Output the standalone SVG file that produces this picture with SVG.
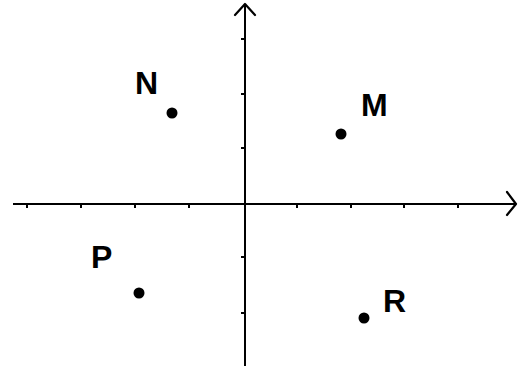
<svg xmlns="http://www.w3.org/2000/svg" width="526" height="367" viewBox="0 0 526 367">
<style>
.ax{stroke:#000;stroke-width:2;fill:none}
.tk{stroke:#000;stroke-width:2}
.ar{stroke:#000;stroke-width:2.2;fill:none;stroke-linecap:round;stroke-linejoin:round}
.lb{font-family:"Liberation Sans",Arial,sans-serif;font-weight:bold;font-size:32px;fill:#000}
.pt{fill:#000}
</style>
<rect width="526" height="367" fill="#fff"/>
<g id="connectors">
<line class="ax" x1="13" y1="204" x2="516" y2="204"/>
<polyline class="ar" points="507,192 516,204 507,215"/>
<line class="ax" x1="245" y1="4" x2="245" y2="366"/>
<polyline class="ar" points="235,15 245,4 255,15"/>
<g id="xticks">
<line class="tk" x1="27" y1="204" x2="27" y2="208"/>
<line class="tk" x1="81" y1="204" x2="81" y2="208"/>
<line class="tk" x1="135" y1="204" x2="135" y2="208"/>
<line class="tk" x1="189" y1="204" x2="189" y2="208"/>
<line class="tk" x1="297" y1="204" x2="297" y2="208"/>
<line class="tk" x1="351" y1="204" x2="351" y2="208"/>
<line class="tk" x1="404" y1="204" x2="404" y2="208"/>
<line class="tk" x1="458" y1="204" x2="458" y2="208"/>
</g>
<g id="yticks">
<line class="tk" x1="241" y1="39" x2="245" y2="39"/>
<line class="tk" x1="241" y1="94" x2="245" y2="94"/>
<line class="tk" x1="241" y1="148" x2="245" y2="148"/>
<line class="tk" x1="241" y1="257" x2="245" y2="257"/>
<line class="tk" x1="241" y1="313" x2="245" y2="313"/>
</g>
</g>
<g id="N"><circle class="pt" cx="172" cy="113" r="5.5"/><text class="lb" x="135" y="94">N</text></g>
<g id="M"><circle class="pt" cx="341" cy="134" r="5.5"/><text class="lb" x="361" y="116">M</text></g>
<g id="P"><circle class="pt" cx="139" cy="293" r="5.5"/><text class="lb" x="91" y="268">P</text></g>
<g id="R"><circle class="pt" cx="364" cy="318" r="5.5"/><text class="lb" x="383" y="312">R</text></g>
</svg>
